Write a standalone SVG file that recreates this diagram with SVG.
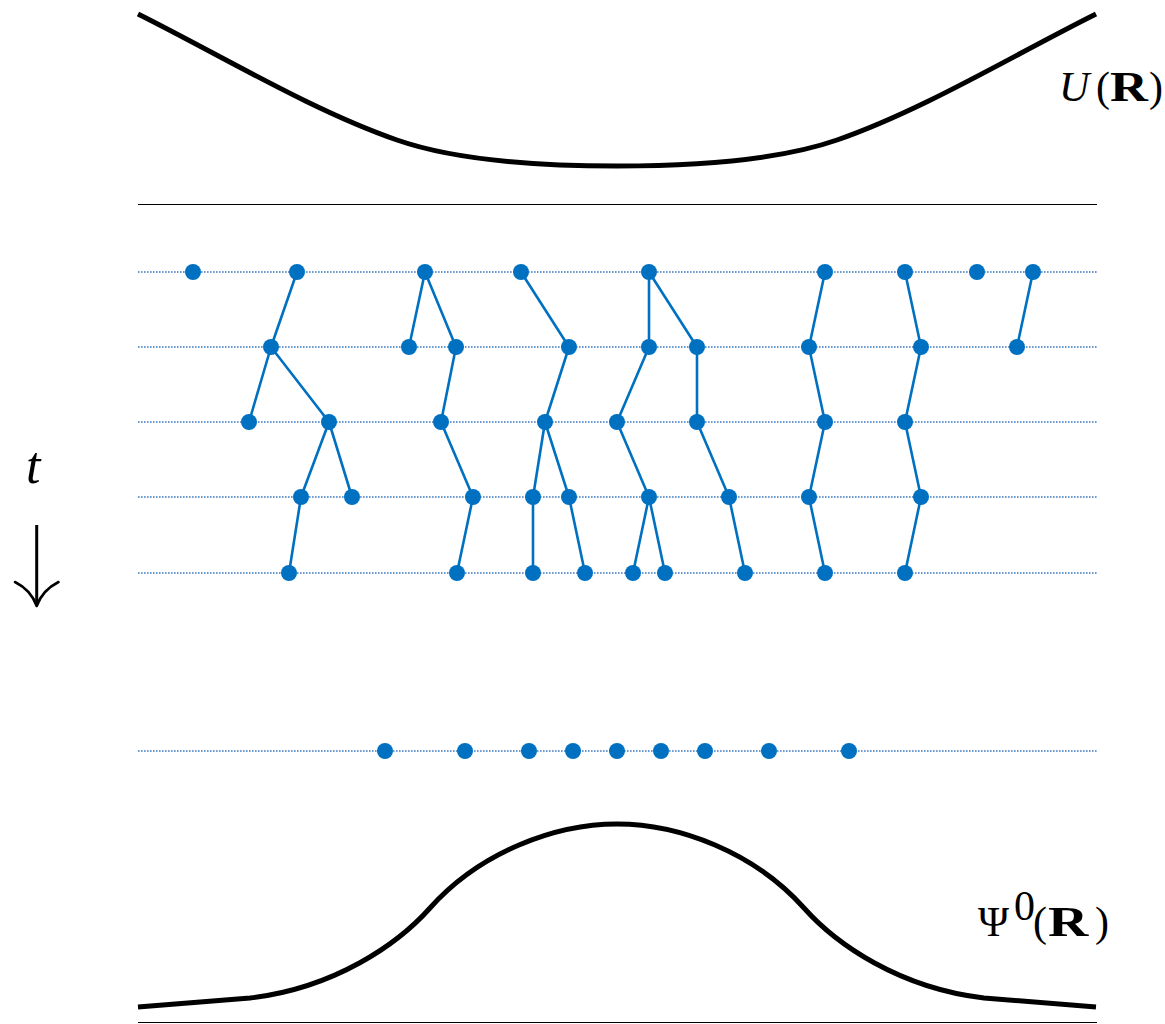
<svg xmlns="http://www.w3.org/2000/svg" width="1165" height="1024" viewBox="0 0 1165 1024">
<style>
.curve{fill:none;stroke:#000;stroke-width:5;stroke-linejoin:round}
.axis{fill:none;stroke:#000;stroke-width:1.2}
.dot{fill:none;stroke:#3f7bc4;stroke-width:1.6;stroke-dasharray:1.6 1.4}
.edge{fill:none;stroke:#0070c0;stroke-width:2.6;stroke-linecap:round}
.node{fill:#0070c0}
.lbl{font-family:"Liberation Serif","DejaVu Serif",serif;font-size:42px;fill:#000}
</style>
<rect width="1165" height="1024" fill="#fff"/>
<g id="potential">
<path class="curve" d="M138,14 C224,57 311,110 397,140 C457,161 540,166 617,166 C694,166 777,161 837,140 C923,110 1010,57 1096,14"/>
<line class="axis" x1="138" y1="204.5" x2="1097" y2="204.5"/>
<text class="lbl" x="1059" y="101" font-style="italic">U</text>
<text class="lbl" x="1096" y="101">(</text>
<text class="lbl" font-weight="bold" transform="translate(1110,101) scale(1.25,1)">R</text>
<text class="lbl" x="1149" y="101">)</text>
</g>
<g id="wavefunction">
<path class="curve" d="M138,1007 L250,998 C335,988 398,944 430,908 C480,852 555,824 617,824 C679,824 754,852 804,908 C836,944 899,988 984,998 L1096,1007"/>
<line class="axis" x1="138" y1="1022.5" x2="1097" y2="1022.5"/>
<text class="lbl" x="978" y="936">Ψ</text>
<text class="lbl" x="1014" y="920" font-size="29px">0</text>
<text class="lbl" x="1033" y="936">(</text>
<text class="lbl" font-weight="bold" transform="translate(1048,936) scale(1.33,1)">R</text>
<text class="lbl" x="1095" y="936">)</text>
</g>
<g id="time-axis">
<text x="26" y="483" font-family="'Liberation Serif','DejaVu Serif',serif" font-style="italic" font-size="52px" fill="#000">t</text>
<line x1="36.7" y1="525" x2="36.7" y2="604" stroke="#000" stroke-width="3"/>
<path d="M15,582 Q31,590 36.7,606 Q42.5,590 58.5,582" fill="none" stroke="#000" stroke-width="2.6" stroke-linecap="round" stroke-linejoin="round"/>
</g>
<g id="walker-lines">
<line class="dot" x1="138" y1="272" x2="1097" y2="272"/>
<line class="dot" x1="138" y1="347" x2="1097" y2="347"/>
<line class="dot" x1="138" y1="422" x2="1097" y2="422"/>
<line class="dot" x1="138" y1="497" x2="1097" y2="497"/>
<line class="dot" x1="138" y1="573" x2="1097" y2="573"/>
<line class="dot" x1="138" y1="751" x2="1097" y2="751"/>
</g>
<g id="connectors">
<line class="edge" x1="297" y1="272" x2="271" y2="347"/>
<line class="edge" x1="271" y1="347" x2="249" y2="422"/>
<line class="edge" x1="271" y1="347" x2="329" y2="422"/>
<line class="edge" x1="329" y1="422" x2="301" y2="497"/>
<line class="edge" x1="329" y1="422" x2="352" y2="497"/>
<line class="edge" x1="301" y1="497" x2="289" y2="573"/>
<line class="edge" x1="425" y1="272" x2="409" y2="347"/>
<line class="edge" x1="425" y1="272" x2="456" y2="347"/>
<line class="edge" x1="456" y1="347" x2="441" y2="422"/>
<line class="edge" x1="441" y1="422" x2="473" y2="497"/>
<line class="edge" x1="473" y1="497" x2="457" y2="573"/>
<line class="edge" x1="521" y1="272" x2="569" y2="347"/>
<line class="edge" x1="569" y1="347" x2="545" y2="422"/>
<line class="edge" x1="545" y1="422" x2="533" y2="497"/>
<line class="edge" x1="545" y1="422" x2="569" y2="497"/>
<line class="edge" x1="533" y1="497" x2="533" y2="573"/>
<line class="edge" x1="569" y1="497" x2="585" y2="573"/>
<line class="edge" x1="649" y1="272" x2="649" y2="347"/>
<line class="edge" x1="649" y1="272" x2="697" y2="347"/>
<line class="edge" x1="649" y1="347" x2="617" y2="422"/>
<line class="edge" x1="697" y1="347" x2="697" y2="422"/>
<line class="edge" x1="617" y1="422" x2="649" y2="497"/>
<line class="edge" x1="697" y1="422" x2="729" y2="497"/>
<line class="edge" x1="649" y1="497" x2="633" y2="573"/>
<line class="edge" x1="649" y1="497" x2="665" y2="573"/>
<line class="edge" x1="729" y1="497" x2="745" y2="573"/>
<polyline class="edge" points="825,272 809,347 825,422 809,497 825,573"/>
<polyline class="edge" points="905,272 921,347 905,422 921,497 905,573"/>
<line class="edge" x1="1033" y1="272" x2="1017" y2="347"/>
</g>
<g id="n1-1"><circle class="node" cx="193" cy="272" r="8"/></g>
<g id="n1-2"><circle class="node" cx="297" cy="272" r="8"/></g>
<g id="n1-3"><circle class="node" cx="425" cy="272" r="8"/></g>
<g id="n1-4"><circle class="node" cx="521" cy="272" r="8"/></g>
<g id="n1-5"><circle class="node" cx="649" cy="272" r="8"/></g>
<g id="n1-6"><circle class="node" cx="825" cy="272" r="8"/></g>
<g id="n1-7"><circle class="node" cx="905" cy="272" r="8"/></g>
<g id="n1-8"><circle class="node" cx="977" cy="272" r="8"/></g>
<g id="n1-9"><circle class="node" cx="1033" cy="272" r="8"/></g>
<g id="n2-1"><circle class="node" cx="271" cy="347" r="8"/></g>
<g id="n2-2"><circle class="node" cx="409" cy="347" r="8"/></g>
<g id="n2-3"><circle class="node" cx="456" cy="347" r="8"/></g>
<g id="n2-4"><circle class="node" cx="569" cy="347" r="8"/></g>
<g id="n2-5"><circle class="node" cx="649" cy="347" r="8"/></g>
<g id="n2-6"><circle class="node" cx="697" cy="347" r="8"/></g>
<g id="n2-7"><circle class="node" cx="809" cy="347" r="8"/></g>
<g id="n2-8"><circle class="node" cx="921" cy="347" r="8"/></g>
<g id="n2-9"><circle class="node" cx="1017" cy="347" r="8"/></g>
<g id="n3-1"><circle class="node" cx="249" cy="422" r="8"/></g>
<g id="n3-2"><circle class="node" cx="329" cy="422" r="8"/></g>
<g id="n3-3"><circle class="node" cx="441" cy="422" r="8"/></g>
<g id="n3-4"><circle class="node" cx="545" cy="422" r="8"/></g>
<g id="n3-5"><circle class="node" cx="617" cy="422" r="8"/></g>
<g id="n3-6"><circle class="node" cx="697" cy="422" r="8"/></g>
<g id="n3-7"><circle class="node" cx="825" cy="422" r="8"/></g>
<g id="n3-8"><circle class="node" cx="905" cy="422" r="8"/></g>
<g id="n4-1"><circle class="node" cx="301" cy="497" r="8"/></g>
<g id="n4-2"><circle class="node" cx="352" cy="497" r="8"/></g>
<g id="n4-3"><circle class="node" cx="473" cy="497" r="8"/></g>
<g id="n4-4"><circle class="node" cx="533" cy="497" r="8"/></g>
<g id="n4-5"><circle class="node" cx="569" cy="497" r="8"/></g>
<g id="n4-6"><circle class="node" cx="649" cy="497" r="8"/></g>
<g id="n4-7"><circle class="node" cx="729" cy="497" r="8"/></g>
<g id="n4-8"><circle class="node" cx="809" cy="497" r="8"/></g>
<g id="n4-9"><circle class="node" cx="921" cy="497" r="8"/></g>
<g id="n5-1"><circle class="node" cx="289" cy="573" r="8"/></g>
<g id="n5-2"><circle class="node" cx="457" cy="573" r="8"/></g>
<g id="n5-3"><circle class="node" cx="533" cy="573" r="8"/></g>
<g id="n5-4"><circle class="node" cx="585" cy="573" r="8"/></g>
<g id="n5-5"><circle class="node" cx="633" cy="573" r="8"/></g>
<g id="n5-6"><circle class="node" cx="665" cy="573" r="8"/></g>
<g id="n5-7"><circle class="node" cx="745" cy="573" r="8"/></g>
<g id="n5-8"><circle class="node" cx="825" cy="573" r="8"/></g>
<g id="n5-9"><circle class="node" cx="905" cy="573" r="8"/></g>
<g id="n6-1"><circle class="node" cx="385" cy="751" r="8"/></g>
<g id="n6-2"><circle class="node" cx="465" cy="751" r="8"/></g>
<g id="n6-3"><circle class="node" cx="529" cy="751" r="8"/></g>
<g id="n6-4"><circle class="node" cx="573" cy="751" r="8"/></g>
<g id="n6-5"><circle class="node" cx="617" cy="751" r="8"/></g>
<g id="n6-6"><circle class="node" cx="661" cy="751" r="8"/></g>
<g id="n6-7"><circle class="node" cx="705" cy="751" r="8"/></g>
<g id="n6-8"><circle class="node" cx="769" cy="751" r="8"/></g>
<g id="n6-9"><circle class="node" cx="849" cy="751" r="8"/></g>
</svg>
